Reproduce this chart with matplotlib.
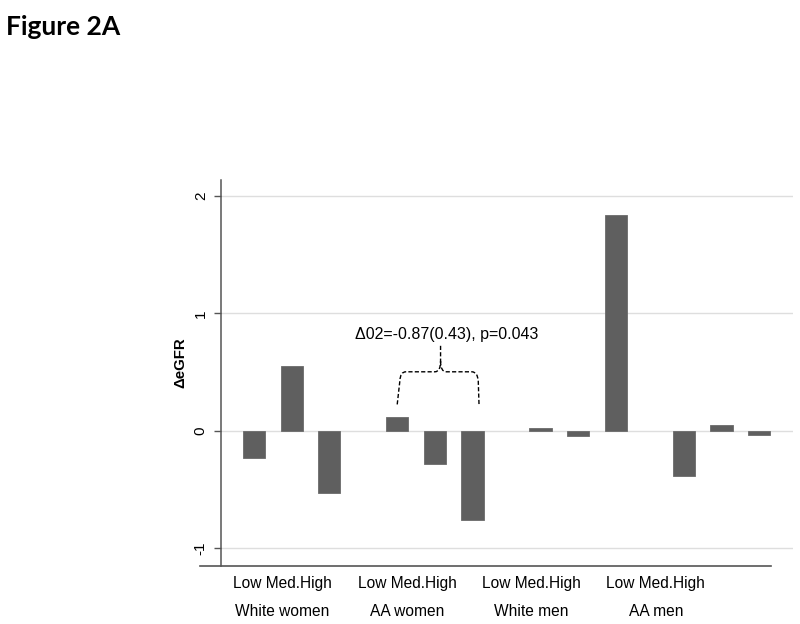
import matplotlib
matplotlib.use("Agg")
import matplotlib.pyplot as plt
from matplotlib.path import Path
from matplotlib.patches import PathPatch
import matplotlib.transforms as mtransforms

plt.rcParams["font.family"] = ["Liberation Sans", "DejaVu Sans"]
plt.rcParams["axes.unicode_minus"] = False

GROUPS = ["White women", "AA women", "White men", "AA men"]
LEVELS = ["Low", "Med.", "High"]
VALUES = [
    [-0.23, 0.55, -0.53],
    [0.12, -0.28, -0.76],
    [0.02, -0.045, 1.84],
    [-0.39, 0.045, -0.04],
]
Y_TICKS = [-1, 0, 1, 2]
ANNOT = "\u039402=-0.87(0.43), p=0.043"

BAR_COLOR = "#5f5f5f"
GRID_COLOR = "#dedede"
AXIS_COLOR = "#555555"

GROUP_STEP = 3.8
BAR_W = 0.59
LABEL_START = 0.76
LABEL_STEP = 3.3


def draw_brace(ax, x0, x1, xm, y0, y1, ytop, r=0.15, ry=0.06):
    # curly bracket: two arms up from bars, joined, peak in the middle
    v = [
        (x0, y0), (x0 + 0.07, y1 - ry * 1.3), (x0 + 0.08, y1), (x0 + r + 0.08, y1),
        (xm - r, y1), (xm, y1), (xm, y1 + ry * 1.5),
        (xm, ytop),
        (xm, y1 + ry * 1.5), (xm, y1), (xm + r, y1),
        (x1 - r - 0.04, y1), (x1 - 0.04, y1), (x1 - 0.02, y1 - ry * 1.3),
        (x1, y0),
    ]
    c = [
        Path.MOVETO, Path.LINETO, Path.CURVE3, Path.CURVE3,
        Path.LINETO, Path.CURVE3, Path.CURVE3,
        Path.LINETO,
        Path.MOVETO, Path.CURVE3, Path.CURVE3,
        Path.LINETO, Path.CURVE3, Path.CURVE3,
        Path.LINETO,
    ]
    ax.add_patch(PathPatch(Path(v, c), fill=False, edgecolor="black",
                           linestyle=(0, (3, 1.6)), linewidth=1.0, zorder=4))


fig = plt.figure(figsize=(8, 6.24), dpi=100)
ax = fig.add_axes([0.27625, 0.0929, 0.715, 0.6186])

for g, vals in enumerate(VALUES):
    xs = [g * GROUP_STEP + i for i in range(len(vals))]
    ax.bar(xs, vals, width=BAR_W, color=BAR_COLOR, edgecolor="#6a6a6a",
           linewidth=0.6, zorder=3)

ax.set_xlim(-0.875, 14.3)
ax.set_ylim(-1.153, 2.136)
ax.set_yticks(Y_TICKS)
ax.set_yticklabels([str(t) for t in Y_TICKS], rotation=90, va="center",
                   fontsize=11)
ax.set_xticks([])
for t in Y_TICKS:
    ax.axhline(t, color=GRID_COLOR, linewidth=1.0, zorder=1)

for s in ["top", "right", "bottom"]:
    ax.spines[s].set_visible(False)
ax.spines["left"].set_color(AXIS_COLOR)
ax.spines["left"].set_linewidth(1.1)
ax.tick_params(axis="y", direction="out", length=5, width=1.0,
               color=AXIS_COLOR, pad=4.5)

# stata-style x axis line, offset from the y axis
ax.plot([-0.0367, 0.9615], [0, 0], transform=ax.transAxes, color=AXIS_COLOR,
        linewidth=1.2, clip_on=False, zorder=5)

ax.set_ylabel("\u0394eGFR", fontsize=10.8, fontweight="bold")
ax.yaxis.set_label_coords(-0.0594, 0.526)

trans = mtransforms.blended_transform_factory(ax.transData, ax.transAxes)
for g, name in enumerate(GROUPS):
    cx = LABEL_START + g * LABEL_STEP
    ax.text(cx, -0.044, "Low Med.High", transform=trans, ha="center",
            va="center", fontsize=11.2)
    ax.text(cx, -0.117, name, transform=trans, ha="center", va="center",
            fontsize=11.2)

draw_brace(ax, 3.8, 5.97, 4.95, 0.224, 0.502, 0.735)
ax.text(5.11, 0.82, ANNOT, ha="center", va="center", fontsize=11.5)

fig.text(0.0075, 0.957, "Figure 2A", fontsize=19, fontweight="bold",
         family=["Lato", "DejaVu Sans"], ha="left", va="center")

fig.savefig("out.png", dpi=100, facecolor="white")
